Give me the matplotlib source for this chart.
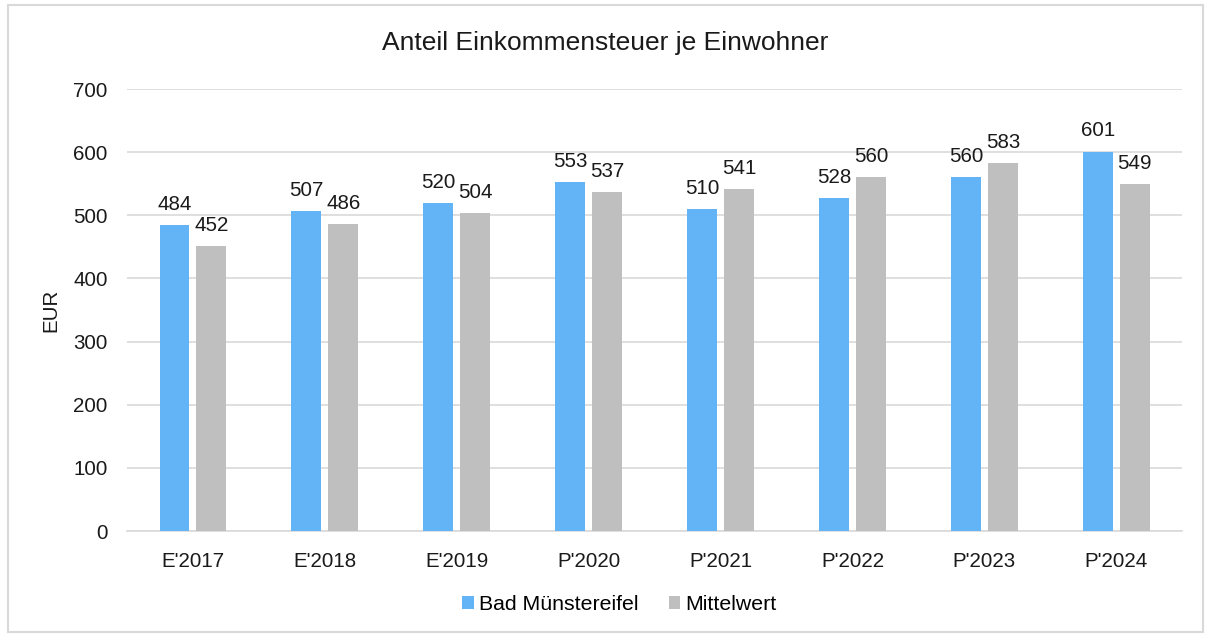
import matplotlib
matplotlib.use("Agg")
import matplotlib.pyplot as plt
import numpy as np
from matplotlib.patches import Rectangle

categories = ["E'2017", "E'2018", "E'2019", "P'2020", "P'2021", "P'2022", "P'2023", "P'2024"]
bad_muenstereifel = [484, 507, 520, 553, 510, 528, 560, 601]
mittelwert = [452, 486, 504, 537, 541, 560, 583, 549]

plt.rcParams['font.family'] = ['Liberation Sans', 'DejaVu Sans']

fig = plt.figure(figsize=(12.1, 6.36), dpi=100)
ax = fig.add_axes([0.105, 0.165, 0.872, 0.695])

blue = '#63B4F6'
gray = '#BFBFBF'
fs = 14.8
x = np.arange(len(categories))
w = 0.227
off = 0.14
b1 = ax.bar(x - off, bad_muenstereifel, w, color=blue, label='Bad Münstereifel', zorder=3)
b2 = ax.bar(x + off, mittelwert, w, color=gray, label='Mittelwert', zorder=3)

for rects, vals in ((b1, bad_muenstereifel), (b2, mittelwert)):
    for r, v in zip(rects, vals):
        ax.annotate(str(v), (r.get_x() + r.get_width() / 2, v), xytext=(0, 8),
                    textcoords='offset points', ha='center', va='bottom', fontsize=fs, color='#1a1a1a')

ax.set_xlim(-0.5, len(categories) - 0.5)
ax.set_ylim(0, 700)
ax.set_yticks(range(0, 701, 100))
ax.set_xticks(x)
ax.set_xticklabels(categories)
ax.tick_params(axis='both', length=0, labelsize=fs, colors='#1a1a1a')
ax.tick_params(axis='y', pad=14)
ax.tick_params(axis='x', pad=15)
ax.grid(axis='y', color='#D9D9D9', linewidth=1.2, zorder=0)
for s in ['top', 'right', 'left']:
    ax.spines[s].set_visible(False)
ax.spines['bottom'].set_color('#D9D9D9')
ax.spines['bottom'].set_linewidth(1.2)
ax.set_ylabel('EUR', fontsize=fs, color='#1a1a1a', labelpad=9)

fig.text(0.5, 0.932, 'Anteil Einkommensteuer je Einwohner', ha='center', va='center', fontsize=19, color='#1a1a1a')

leg = fig.legend(handles=[b1, b2], loc='center', bbox_to_anchor=(0.512, 0.049), ncol=2, frameon=False,
                 fontsize=15.3, handlelength=0.55, handleheight=0.55, handletextpad=0.25, columnspacing=1.4)

fig.patches.append(Rectangle((8 / 1210, 1 - 632 / 636), 1195 / 1210, 627 / 636, transform=fig.transFigure,
                             fill=False, edgecolor='#D9D9D9', linewidth=1.5))

fig.savefig('out.png', dpi=100)
